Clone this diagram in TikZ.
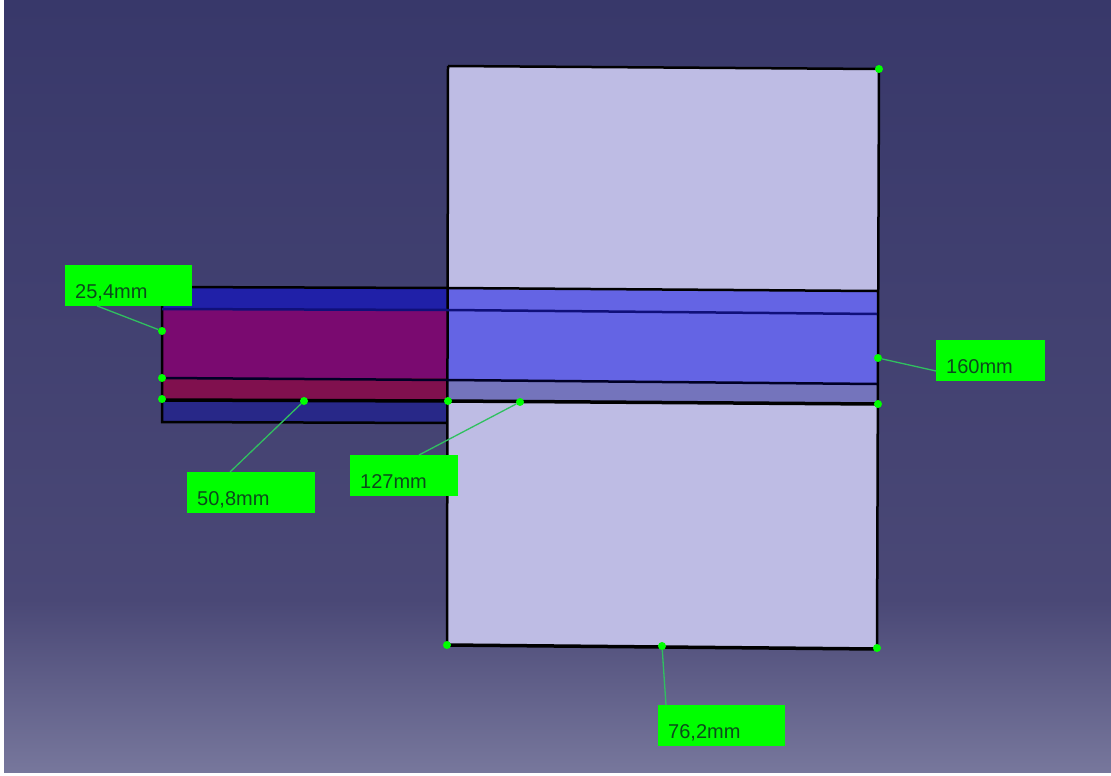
\documentclass[tikz,border=0pt]{standalone}
\usepackage{fontspec}
\setmainfont{Liberation Sans}
\usepackage[dvipsnames]{xcolor}
\usetikzlibrary{calc}
\usetikzlibrary{positioning}
\definecolor{bgtop}{HTML}{38386A}
\definecolor{bgmid}{HTML}{4A4876}
\definecolor{bgbot}{HTML}{77779C}
\definecolor{plate}{HTML}{BEBCE4}
\definecolor{stripband}{HTML}{6464E4}
\definecolor{stripgray}{HTML}{7474BC}
\definecolor{darkblue}{HTML}{2020A8}
\definecolor{lowblue}{HTML}{282888}
\definecolor{wine}{HTML}{7A0A70}
\definecolor{winedark}{HTML}{80104E}
\definecolor{labelgreen}{HTML}{00FF00}
\definecolor{labeltext}{HTML}{0C4A1C}
\definecolor{leadergreen}{HTML}{30C060}
\definecolor{bandnavy}{HTML}{10107A}
\tikzset{
  dimbox/.style={fill=labelgreen, text=labeltext, font=\fontsize{20}{20}\selectfont, inner ysep=0pt, inner xsep=10pt, text height=33pt, text depth=7.5pt, anchor=north west, align=left},
  leader/.style={draw=leadergreen, line width=1.3pt},
  edgeline/.style={draw=black, line width=2.5pt},
  bandline/.style={draw=bandnavy, line width=2.5pt},
  dimdot/.style={circle, fill=labelgreen, inner sep=0pt, minimum size=8pt},
}
\begin{document}
\begin{tikzpicture}[x=1pt,y=-1pt]
  \useasboundingbox (0,0) rectangle (1111,776);
  % background
  \fill[white] (0,0) rectangle (1111,776);
  \shade[top color=bgtop, bottom color=bgmid] (4,0) rectangle (1111,600);
  \shade[top color=bgmid, bottom color=bgbot] (4,600) rectangle (1111,772);

  % plate
  \fill[plate] (448,66) -- (879,69) -- (877,648) -- (447,645) -- cycle;

  % left part
  \fill[darkblue] (162,287) rectangle (448,310);
  \fill[wine] (162,309) rectangle (448,379);
  \fill[winedark] (162,378) rectangle (448,401);
  \fill[lowblue] (162,400) rectangle (448,422);

  % band over plate
  \fill[stripband] (448,289) -- (877,291) -- (877,384) -- (448,380) -- cycle;
  \fill[stripgray] (448,380) -- (877,384) -- (877,404) -- (448,401) -- cycle;

  % outlines
  \draw[edgeline] (448,66) -- (879,69) -- (877,648);
  \draw[edgeline] (448,66) -- (447,645);
  \draw[edgeline, line width=3.5pt] (447,645) -- (877,649);
  \draw[edgeline] (162,287) -- (162,422) -- (447,423);
  \draw[edgeline] (162,287) -- (448,288) -- (877,291);
  \draw[bandline] (162,309) -- (448,310) -- (877,314);
  \draw[edgeline, draw=black!85!blue] (162,378) -- (448,380) -- (877,384);
  \draw[edgeline, line width=3.5pt] (162,400) -- (448,401) -- (877,404);

  % dimension points
  \node[dimdot] (p254) at (162,331) {};
  \node[dimdot] (p254b) at (162,378) {};
  \node[dimdot] (p254c) at (162,399) {};
  \node[dimdot] (p508) at (304,401) {};
  \node[dimdot] (p127a) at (448,401) {};
  \node[dimdot] (p127) at (520,402) {};
  \node[dimdot] (p160) at (878,358) {};
  \node[dimdot] (p160b) at (878,404) {};
  \node[dimdot] (ptop) at (879,69) {};
  \node[dimdot] (pbl) at (447,645) {};
  \node[dimdot] (p762) at (662,646) {};
  \node[dimdot] (pbr) at (877,648) {};

  % labels
  \node[dimbox, text width=107pt] (l254) at (65,265) {25,4mm};
  \node[dimbox, text width=108pt] (l508) at (187,472) {50,8mm};
  \node[dimbox, text width=88pt] (l127) at (350,455) {127mm};
  \node[dimbox, text width=89pt] (l160) at (936,340) {160mm};
  \node[dimbox, text width=107pt] (l762) at (658,705) {76,2mm};

  % leaders
  \draw[leader] (p254) -- (l254.south west -| 97,0);
  \draw[leader] (p508) -- (l508.north west -| 230,0);
  \draw[leader] (p127) -- (l127.north west -| 419,0);
  \draw[leader] (p160) -- (l160.west |- 0,371);
  \draw[leader] (p762) -- (l762.north west -| 666,0);
\end{tikzpicture}
\end{document}
